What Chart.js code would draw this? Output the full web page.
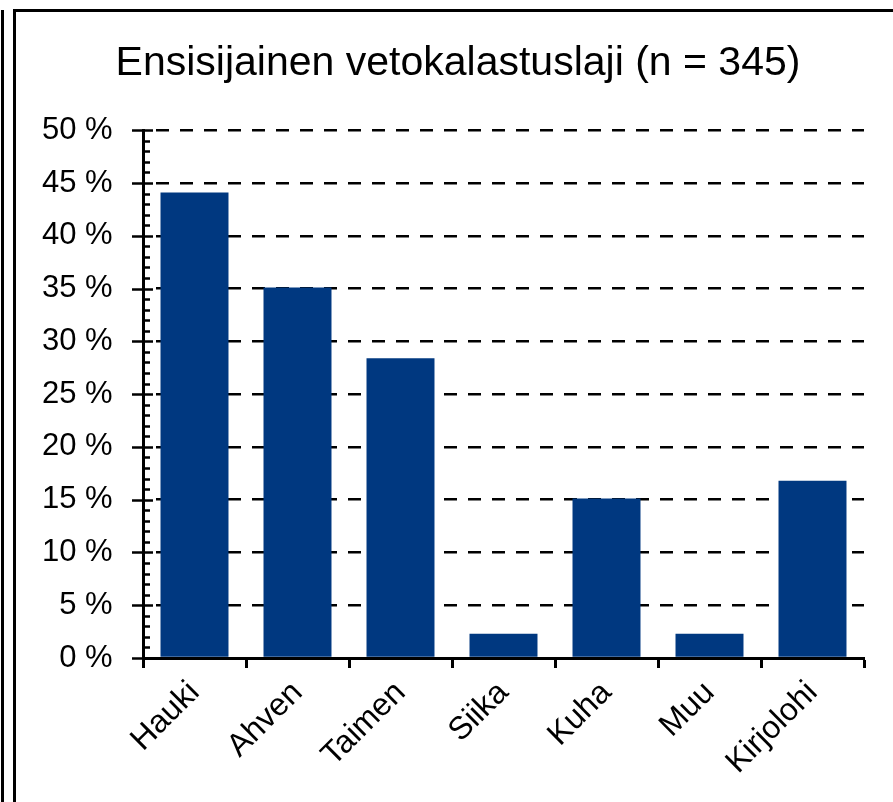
<!DOCTYPE html>
<html>
<head>
<meta charset="utf-8">
<script src="https://cdn.jsdelivr.net/npm/chart.js@4/dist/chart.umd.min.js"></script>
<style>
    html, body { margin: 0; padding: 0; background: #fff; }
    #wrap { position: relative; width: 893px; height: 802px; overflow: hidden; }
    #chart { position: absolute; left: 0; top: 0; }
    .line { position: absolute; background: #000; }
</style>
</head>
<body>
<div id="wrap">
    <canvas id="chart" width="893" height="802"></canvas>
    <div class="line" style="left:1px; top:10px; width:3px; height:800px;"></div>
    <div class="line" style="left:13px; top:10px; width:3px; height:800px;"></div>
    <div class="line" style="left:13px; top:9px; width:900px; height:3px;"></div>
</div>
<script>
const titleText = 'Ensisijainen vetokalastuslaji (n = 345)';
const species = ['Hauki', 'Ahven', 'Taimen', 'Siika', 'Kuha', 'Muu', 'Kirjolohi'];
const shares = [44.1, 35.1, 28.4, 2.3, 15.1, 2.3, 16.8];
const yMax = 50;
const yStep = 5;

// tick marks on the value axis: big ones cross the axis, small ones point inward
const axisTicks = {
    id: 'axisTicks',
    afterDraw(chart) {
        const y = chart.scales.y;
        const ctx = chart.ctx;
        const x0 = chart.chartArea.left;
        ctx.save();
        ctx.strokeStyle = '#000';
        ctx.lineWidth = 2.5;
        for (let v = 0; v <= yMax; v++) {
            const py = Math.round(y.getPixelForValue(v)) + 0.5;
            ctx.beginPath();
            if (v % yStep === 0) {
                ctx.moveTo(x0 - 11, py);
                ctx.lineTo(x0 + 10, py);
            } else {
                ctx.moveTo(x0, py);
                ctx.lineTo(x0 + 7, py);
            }
            ctx.stroke();
        }
        ctx.restore();
    }
};

const ctx = document.getElementById('chart').getContext('2d');
new Chart(ctx, {
    type: 'bar',
    data: {
        labels: species,
        datasets: [{
            data: shares,
            backgroundColor: 'rgb(0, 56, 128)',
            borderWidth: 0,
            barPercentage: 0.66,
            categoryPercentage: 1
        }]
    },
    options: {
        responsive: false,
        animation: false,
        devicePixelRatio: 1,
        layout: {
            padding: { top: 0, right: 29, bottom: 0, left: 52 }
        },
        plugins: {
            legend: { display: false },
            tooltip: { enabled: false },
            title: {
                display: true,
                text: titleText,
                color: '#000',
                font: { family: 'Liberation Sans', size: 41, weight: 'normal' },
                padding: { top: 39, bottom: 42 }
            }
        },
        scales: {
            x: {
                offset: true,
                grid: {
                    offset: true,
                    drawOnChartArea: false,
                    drawTicks: true,
                    tickLength: 10,
                    tickWidth: 3,
                    tickColor: '#000'
                },
                border: { display: true, color: '#000', width: 3 },
                ticks: {
                    color: '#000',
                    font: { family: 'Liberation Sans', size: 32 },
                    minRotation: 45,
                    maxRotation: 45,
                    padding: 6
                },
                afterFit(scale) { scale.height = 144; }
            },
            y: {
                min: 0,
                max: yMax,
                ticks: {
                    stepSize: yStep,
                    color: '#000',
                    font: { family: 'Liberation Sans', size: 31 },
                    // mirrored + far alignment keeps labels right-aligned left of the axis without clipping
                    mirror: true,
                    crossAlign: 'far',
                    padding: -101,
                    callback: v => v + ' %'
                },
                grid: {
                    drawTicks: false,
                    color: '#000',
                    lineWidth: 2.5
                },
                border: { display: true, color: '#000', width: 3, dash: [13, 11], dashOffset: -11 },
                afterFit(scale) { scale.width = 91; }
            }
        }
    },
    plugins: [axisTicks]
});
</script>
</body>
</html>
